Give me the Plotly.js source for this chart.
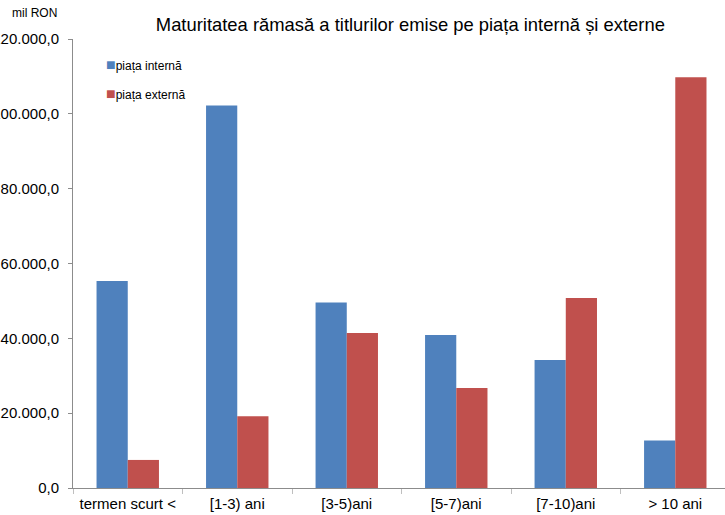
<!DOCTYPE html>
<html>
<head>
<meta charset="utf-8">
<script src="https://cdn.plot.ly/plotly-3.0.1.min.js"></script>
<style>
  body { margin: 0; }
  #chart { width: 725px; height: 515px; }
</style>
</head>
<body>
<div id="chart"></div>
<script>
// categorii de maturitate
const CATEGORII = ["termen scurt <", "[1-3) ani", "[3-5)ani", "[5-7)ani", "[7-10)ani", "> 10 ani"];

// valori, mil RON
const PIATA_INTERNA = [55300, 102200, 49600, 40900, 34200, 12700];
const PIATA_EXTERNA = [7500, 19200, 41400, 26700, 50800, 109800];

const SERII = ["piața internă", "piața externă"];
const CULORI = ["#4f81bd", "#c0504d"];

const FONT = "Liberation Sans, Arial, sans-serif";

const DATA = [
  {x: CATEGORII, y: PIATA_INTERNA, name: SERII[0], type: "bar", marker: {color: CULORI[0]}},
  {x: CATEGORII, y: PIATA_EXTERNA, name: SERII[1], type: "bar", marker: {color: CULORI[1]}}
];

// legenda desenata ca text (patrat colorat + nume)
const LEGENDA = SERII.map((nume, i) => ({
  text: "<span style='color:" + CULORI[i] + ";font-size:16px'>■</span>" + nume,
  xref: "paper", yref: "paper",
  x: 0.048, y: 0.944 - i * 0.065,
  xanchor: "left", yanchor: "middle",
  showarrow: false, font: {size: 12}
}));

const LAYOUT = {
  width: 725,
  height: 515,
  margin: {l: 73, r: 0, t: 39, b: 27},
  paper_bgcolor: "#ffffff",
  plot_bgcolor: "#ffffff",
  font: {family: FONT, color: "#000000"},
  separators: ",.",
  barmode: "group",
  bargap: 0.43,
  bargroupgap: 0,
  showlegend: false,
  title: {
    text: "Maturitatea rămasă a titlurilor emise pe piața internă și externe",
    font: {size: 18.4, family: FONT},
    x: 0.566, xanchor: "center",
    y: 0.953, yanchor: "middle"
  },
  // -> axa orizontala
  xaxis: {
    type: "category",
    range: [-0.5, 5.454],
    showline: true, linecolor: "#8c8c8c", linewidth: 1,
    ticks: "outside", tickson: "boundaries", ticklen: 5, tickcolor: "#bfbfbf",
    tickfont: {size: 15},
    ticklabelstandoff: 2,
    showgrid: false, zeroline: false, fixedrange: true
  },
  // -> axa verticala
  yaxis: {
    range: [0, 120000],
    dtick: 20000,
    tickformat: ",.1f",
    showline: true, linecolor: "#8c8c8c", linewidth: 1,
    ticks: "outside", ticklen: 4, tickcolor: "#8c8c8c",
    tickfont: {size: 15},
    ticklabelstandoff: 6,
    showgrid: false, zeroline: false, fixedrange: true
  },
  annotations: [
    ...LEGENDA,
    {
      text: "mil RON",
      xref: "paper", yref: "paper",
      x: -0.096, y: 1.058, xanchor: "left", yanchor: "middle",
      showarrow: false, font: {size: 12}
    }
  ]
};

Plotly.newPlot("chart", DATA, LAYOUT, {displayModeBar: false, staticPlot: true});
</script>
</body>
</html>
